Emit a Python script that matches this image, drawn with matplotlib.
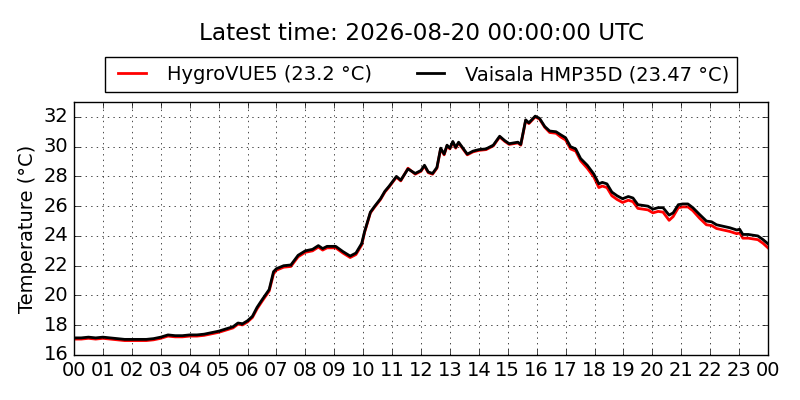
import matplotlib
matplotlib.use("Agg")
import matplotlib.pyplot as plt
import matplotlib.dates as md
from datetime import datetime, timedelta

# hours since midnight of the plotted day
hours = [0.0, 0.25, 0.5, 0.75, 1.0, 1.25, 1.5, 1.75, 2.0, 2.25, 2.5, 2.75,
         3.0, 3.25, 3.5, 3.75, 4.0, 4.25, 4.5, 4.75, 5.0, 5.25, 5.5, 5.67,
         5.83, 6.0, 6.17, 6.33, 6.5, 6.75, 6.9, 7.0, 7.25, 7.5, 7.75, 8.0,
         8.25, 8.45, 8.6, 8.75, 9.05, 9.3, 9.55, 9.75, 9.95, 10.05, 10.25, 10.4,
         10.6, 10.75, 10.9, 11.15, 11.3, 11.55, 11.8, 12.0, 12.12, 12.25, 12.4, 12.55,
         12.68, 12.8, 12.9, 13.0, 13.1, 13.2, 13.3, 13.45, 13.6, 13.8, 14.0, 14.25,
         14.5, 14.72, 14.9, 15.05, 15.35, 15.45, 15.62, 15.73, 15.95, 16.1, 16.28, 16.45,
         16.67, 16.83, 17.0, 17.17, 17.35, 17.52, 17.75, 17.98, 18.15, 18.27, 18.43, 18.6,
         18.78, 18.97, 19.17, 19.33, 19.5, 19.68, 19.85, 20.02, 20.2, 20.37, 20.58, 20.72,
         20.9, 21.05, 21.23, 21.4, 21.63, 21.87, 22.05, 22.22, 22.45, 22.68, 22.92, 23.02,
         23.13, 23.32, 23.48, 23.65, 23.83, 24.0]

vaisala = [17.15, 17.15, 17.2, 17.15, 17.2, 17.15, 17.1, 17.05, 17.05, 17.05, 17.05, 17.1,
           17.2, 17.35, 17.3, 17.3, 17.35, 17.35, 17.4, 17.5, 17.6, 17.75, 17.9, 18.15,
           18.1, 18.3, 18.6, 19.2, 19.7, 20.4, 21.6, 21.8, 22.0, 22.05, 22.7, 23.0,
           23.1, 23.35, 23.15, 23.3, 23.3, 22.95, 22.65, 22.85, 23.5, 24.3, 25.6, 26.0,
           26.5, 27.0, 27.35, 28.0, 27.75, 28.5, 28.2, 28.4, 28.75, 28.3, 28.2, 28.6,
           29.9, 29.5, 30.1, 29.9, 30.35, 29.95, 30.3, 29.9, 29.5, 29.7, 29.8, 29.85,
           30.1, 30.7, 30.4, 30.2, 30.3, 30.15, 31.8, 31.6, 32.05, 31.9, 31.35, 31.05,
           31.0, 30.8, 30.6, 30.0, 29.85, 29.2, 28.75, 28.15, 27.5, 27.6, 27.5, 26.95,
           26.7, 26.5, 26.65, 26.55, 26.1, 26.05, 26.0, 25.8, 25.9, 25.9, 25.4, 25.55,
           26.1, 26.15, 26.15, 25.9, 25.45, 25.0, 24.95, 24.75, 24.65, 24.55, 24.4, 24.45,
           24.1, 24.1, 24.05, 24.0, 23.75, 23.47]

hygrovue = [17.07, 17.07, 17.12, 17.07, 17.12, 17.07, 17.02, 16.97, 16.97, 16.97, 16.97, 17.02,
            17.12, 17.27, 17.22, 17.22, 17.27, 17.27, 17.32, 17.42, 17.52, 17.67, 17.82, 18.07,
            18.02, 18.22, 18.52, 19.1, 19.6, 20.3, 21.45, 21.7, 21.9, 21.95, 22.6, 22.9,
            23.0, 23.25, 23.05, 23.2, 23.2, 22.85, 22.55, 22.75, 23.4, 24.25, 25.55, 25.95,
            26.45, 26.95, 27.3, 27.95, 27.7, 28.55, 28.15, 28.35, 28.7, 28.25, 28.15, 28.55,
            29.85, 29.45, 30.05, 29.85, 30.3, 29.9, 30.25, 29.85, 29.45, 29.65, 29.75, 29.8,
            30.05, 30.65, 30.35, 30.15, 30.25, 30.1, 31.75, 31.55, 32.0, 31.85, 31.3, 30.95,
            30.9, 30.65, 30.45, 29.85, 29.7, 29.05, 28.55, 27.95, 27.25, 27.35, 27.25, 26.7,
            26.45, 26.25, 26.4, 26.3, 25.85, 25.8, 25.75, 25.55, 25.65, 25.6, 25.05, 25.3,
            25.9, 25.95, 25.95, 25.7, 25.2, 24.75, 24.7, 24.5, 24.4, 24.3, 24.15, 24.2,
            23.85, 23.85, 23.8, 23.75, 23.5, 23.2]

day = datetime(2026, 8, 19)
times = [day + timedelta(hours=h) for h in hours]

plt.style.use('classic')
fig = plt.figure(figsize=(8, 4), dpi=100, facecolor='white')
ax = fig.add_axes([0.0925, 0.1125, 0.8675, 0.6325])

ax.plot(times, hygrovue, color='red', lw=2, label='HygroVUE5 (%s °C)' % hygrovue[-1])
ax.plot(times, vaisala, color='black', lw=2, label='Vaisala HMP35D (%s °C)' % vaisala[-1])

ax.set_xlim(day, day + timedelta(hours=24))
ax.set_ylim(16, 33)
ax.set_yticks(range(16, 33, 2))
ax.xaxis.set_major_locator(md.HourLocator(interval=1))
ax.xaxis.set_major_formatter(md.DateFormatter('%H'))
ax.tick_params(labelsize=14)
ax.grid(True)
ax.set_ylabel('Temperature (°C)', fontsize=14)

ax.legend(loc='lower center', bbox_to_anchor=(0.5, 1.04), ncol=2,
          fontsize=14, borderaxespad=0)
# title centred over the axes, not the figure
fig.text(0.5265, 1 - 34 / 400, 'Latest time: 2026-08-20 00:00:00 UTC',
         ha='center', va='center', fontsize=16.7)

fig.savefig('out.png', dpi=100, facecolor='white')
